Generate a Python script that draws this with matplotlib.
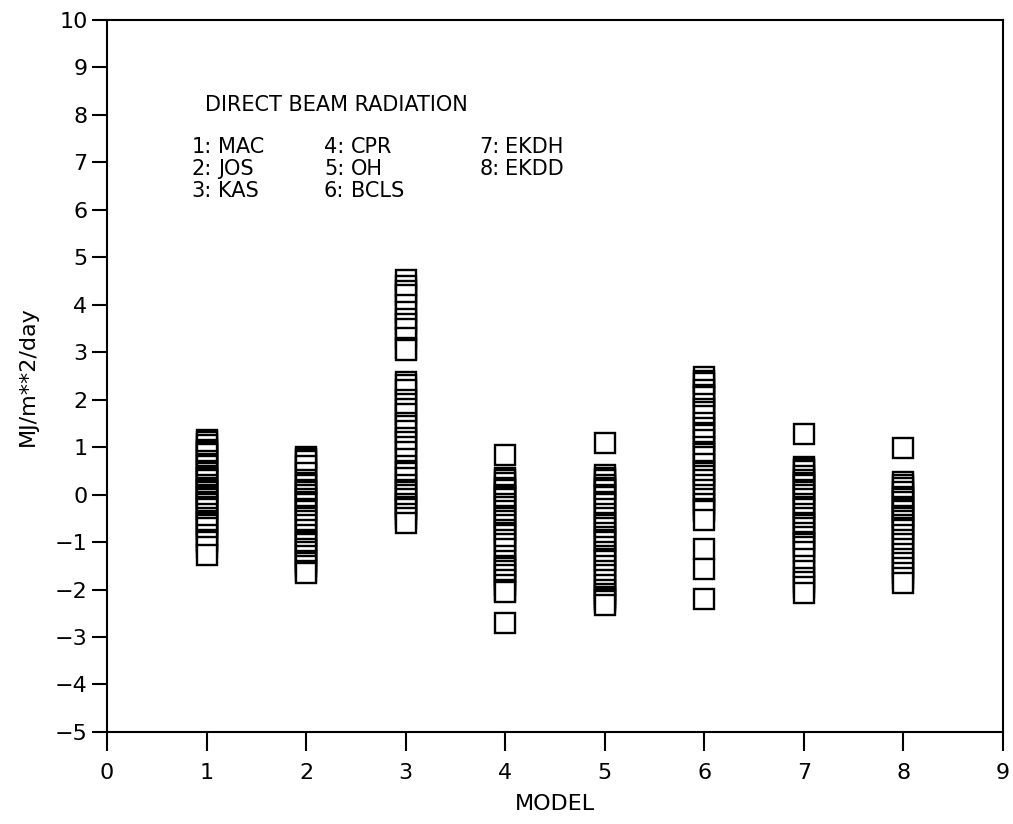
import matplotlib
matplotlib.use("Agg")
import matplotlib.pyplot as plt

plt.rcParams['font.family'] = ['DejaVu Sans']

models = [1, 2, 3, 4, 5, 6, 7, 8]

m1 = [1.15, 1.1, 1.05, 0.95, 0.9, 0.85, 0.7, 0.65, 0.6, 0.5, 0.45, 0.4, 0.35,
      0.3, 0.2, 0.15, 0.1, 0.05, 0.0, -0.05, -0.1, -0.15, -0.2, -0.25, -0.3,
      -0.4, -0.5, -0.55, -0.6, -0.65, -0.7, -0.85, -0.95, -1.0, -1.1, -1.27]
m2 = [0.8, 0.75, 0.7, 0.6, 0.45, 0.3, 0.25, 0.2, 0.1, 0.05, 0.0, -0.1, -0.15,
      -0.2, -0.3, -0.35, -0.45, -0.5, -0.55, -0.65, -0.75, -0.85, -0.95, -1.0,
      -1.05, -1.15, -1.2, -1.3, -1.4, -1.45, -1.5, -1.6, -1.65]
m3 = [4.52, 4.4, 4.3, 4.2, 4.0, 3.85, 3.7, 3.6, 3.5, 3.3, 3.1, 3.05,
      2.37, 2.3, 2.2, 2.0, 1.9, 1.8, 1.7, 1.5, 1.45, 1.35, 1.2, 1.1, 1.0, 0.9,
      0.75, 0.6, 0.5, 0.45, 0.35, 0.2, 0.1, 0.05, 0.0, -0.1, -0.2, -0.25,
      -0.3, -0.4, -0.5, -0.6]
m4 = [0.83, 0.35, 0.3, 0.25, 0.15, 0.1, 0.0, -0.05, -0.1, -0.2, -0.25, -0.35,
      -0.45, -0.5, -0.55, -0.65, -0.75, -0.8, -0.85, -0.95, -1.05, -1.15,
      -1.3, -1.4, -1.5, -1.55, -1.6, -1.7, -1.8, -1.9, -2.0, -2.05, -2.7]
m5 = [1.08, 0.41, 0.35, 0.3, 0.2, 0.15, 0.1, 0.0, -0.05, -0.15, -0.2, -0.3,
      -0.4, -0.5, -0.6, -0.65, -0.7, -0.8, -0.9, -0.95, -1.0, -1.1, -1.2,
      -1.3, -1.35, -1.4, -1.5, -1.6, -1.7, -1.8, -1.9, -2.0, -2.1, -2.15,
      -2.2, -2.25, -2.33]
m6 = [2.47, 2.4, 2.35, 2.2, 2.1, 2.05, 1.9, 1.8, 1.75, 1.65, 1.5, 1.4, 1.3,
      1.25, 1.15, 1.0, 0.9, 0.85, 0.8, 0.65, 0.5, 0.45, 0.4, 0.3, 0.2, 0.1,
      0.0, -0.1, -0.2, -0.3, -0.35, -0.54, -1.15, -1.57, -2.2]
m7 = [1.27, 0.58, 0.55, 0.5, 0.4, 0.3, 0.25, 0.2, 0.1, 0.05, 0.0, -0.1, -0.2,
      -0.25, -0.3, -0.4, -0.5, -0.6, -0.65, -0.7, -0.8, -0.9, -1.0, -1.05,
      -1.1, -1.2, -1.35, -1.5, -1.6, -1.75, -1.85, -1.95, -2.07]
m8 = [0.98, 0.26, 0.2, 0.15, 0.05, -0.05, -0.1, -0.15, -0.25, -0.3, -0.35,
      -0.45, -0.5, -0.55, -0.65, -0.7, -0.75, -0.85, -0.95, -1.05, -1.15,
      -1.25, -1.35, -1.45, -1.55, -1.65, -1.75, -1.86]

series = [m1, m2, m3, m4, m5, m6, m7, m8]

title_text = "DIRECT BEAM RADIATION"
legend_nums = ["1:", "2:", "3:", "4:", "5:", "6:", "7:", "8:"]
legend_names = ["MAC", "JOS", "KAS", "CPR", "OH", "BCLS", "EKDH", "EKDD"]

x_ticks = [0, 1, 2, 3, 4, 5, 6, 7, 8, 9]
y_ticks = [-5, -4, -3, -2, -1, 0, 1, 2, 3, 4, 5, 6, 7, 8, 9, 10]

fig = plt.figure(figsize=(10.13, 8.24), dpi=100)
ax = fig.add_axes([0.1056, 0.1117, 0.8844, 0.864])

for m, vals in zip(models, series):
    ax.plot([m] * len(vals), vals, linestyle='none', marker='s',
            markersize=14.5, markerfacecolor='white', markeredgecolor='black',
            markeredgewidth=1.7)

ax.set_xlim(0, 9)
ax.set_ylim(-5, 10)
ax.set_xticks(x_ticks)
ax.set_yticks(y_ticks)
ax.tick_params(axis='x', direction='out', length=14, width=1.5, labelsize=16, pad=8)
ax.tick_params(axis='y', direction='out', length=11, width=1.5, labelsize=16, pad=3)
for s in ax.spines.values():
    s.set_linewidth(1.5)

ax.set_xlabel("MODEL", fontsize=16, labelpad=8)
ax.set_ylabel("MJ/m**2/day", fontsize=16, labelpad=12)

fs = 15
ax.text(0.98, 8.2, title_text, fontsize=fs, va='center', ha='left')
row_y = [7.33, 6.87, 6.4]
col_num_x = [0.85, 2.18, 3.74]
col_name_x = [1.12, 2.45, 4.0]
for i, (n, name) in enumerate(zip(legend_nums, legend_names)):
    c = i // 3
    r = i % 3
    ax.text(col_num_x[c], row_y[r], n, fontsize=fs, va='center', ha='left')
    ax.text(col_name_x[c], row_y[r], name, fontsize=fs, va='center', ha='left')

fig.savefig("out.png", dpi=100)
